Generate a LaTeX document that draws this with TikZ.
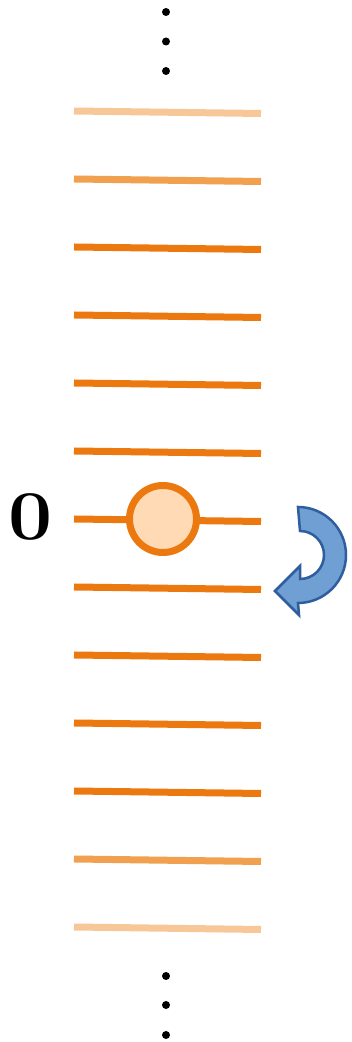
\documentclass[tikz,border=0pt]{standalone}
\usepackage{tikz}
\definecolor{rungmain}{HTML}{EC7810}
\definecolor{rungmid}{HTML}{F0A04E}
\definecolor{runglight}{HTML}{F7C797}
\definecolor{beadfill}{HTML}{FFDAB5}
\definecolor{arrowfill}{HTML}{6F9FD3}
\definecolor{arrowline}{HTML}{2F5E9F}
\tikzset{
  rung/.style={line width=7pt},
  bead/.style={circle, draw=rungmain, fill=beadfill, line width=7pt, minimum size=67pt, inner sep=0pt},
  vdot/.style={circle, fill=black, minimum size=8pt, inner sep=0pt},
  levellabel/.style={font=\fontsize{70}{70}\selectfont\bfseries, inner sep=0pt, xscale=1.12},
  turnarrow/.style={fill=arrowfill, draw=arrowline, line width=2.5pt, line join=miter},
}
\begin{document}
\begin{tikzpicture}[x=1pt,y=1pt]
\useasboundingbox (0,0) rectangle (351,1042);
% ladder of levels, slightly tilted
\foreach \k/\c in {0/runglight,1/rungmid,2/rungmain,3/rungmain,4/rungmain,5/rungmain,
                   6/rungmain,7/rungmain,8/rungmain,9/rungmain,10/rungmain,11/rungmid,12/runglight}{
  \draw[rung, draw=\c] (74,{931-68*\k}) -- (261,{928.5-68*\k});
}
% continuation dots above and below
\node[vdot] (t1) at (166,1030) {};
\node[vdot] (t2) at (166,1000.5) {};
\node[vdot] (t3) at (166,971) {};
\node[vdot] (b1) at (166,66) {};
\node[vdot] (b2) at (166,37) {};
\node[vdot] (b3) at (166,7) {};
% particle at level zero
\node[bead] (p) at (163,523) {};
\node[levellabel] (zero) at (31,525) {0};
% downward turn arrow
\draw[turnarrow]
  (298,535) arc[start angle=90, end angle=-90, radius=48]
  -- (299,427) -- (275,451) -- (300,476) -- (300,463)
  arc[start angle=-90, end angle=90, radius=24] -- cycle;
\end{tikzpicture}
\end{document}
